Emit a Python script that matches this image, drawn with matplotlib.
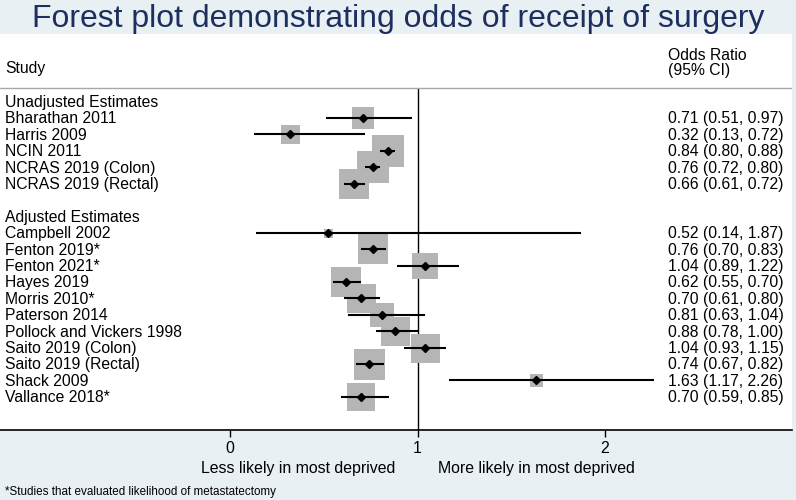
import matplotlib.pyplot as plt

plt.rcParams['font.family'] = ['Liberation Sans', 'DejaVu Sans']

title = "Forest plot demonstrating odds of receipt of surgery"

# unadjusted estimates
unadj_study = ["Bharathan 2011", "Harris 2009", "NCIN 2011",
               "NCRAS 2019 (Colon)", "NCRAS 2019 (Rectal)"]
unadj_or = [0.71, 0.32, 0.84, 0.76, 0.66]
unadj_lo = [0.51, 0.13, 0.80, 0.72, 0.61]
unadj_hi = [0.97, 0.72, 0.88, 0.80, 0.72]
unadj_w = [22, 19, 32, 32, 30]   # box side (study weight)

# adjusted estimates
adj_study = ["Campbell 2002", "Fenton 2019*", "Fenton 2021*", "Hayes 2019",
             "Morris 2010*", "Paterson 2014", "Pollock and Vickers 1998",
             "Saito 2019 (Colon)", "Saito 2019 (Rectal)", "Shack 2009",
             "Vallance 2018*"]
adj_or = [0.52, 0.76, 1.04, 0.62, 0.70, 0.81, 0.88, 1.04, 0.74, 1.63, 0.70]
adj_lo = [0.14, 0.70, 0.89, 0.55, 0.61, 0.63, 0.78, 0.93, 0.67, 1.17, 0.59]
adj_hi = [1.87, 0.83, 1.22, 0.70, 0.80, 1.04, 1.00, 1.15, 0.82, 2.26, 0.85]
adj_w = [9, 30, 26, 30, 29, 24, 29, 29, 31, 13, 27]

xticks = [0, 1, 2]
less_lbl = "Less likely in most deprived"
more_lbl = "More likely in most deprived"
footnote = "*Studies that evaluated likelihood of metastatectomy"

bg = '#e9f0f3'
box_col = '#b5b5b5'
navy = '#1d2f5e'

fig = plt.figure(figsize=(7.96, 5), dpi=100, facecolor=bg)
ax = fig.add_axes([0, 70 / 500, 792 / 796, 396 / 500])
ax.set_facecolor('white')

ax.set_xlim(-1.2267, 2.997)
ax.set_ylim(20.03, -4.116)

# rows: header, studies, blank, header, studies
groups = [("Unadjusted Estimates", unadj_study, unadj_or, unadj_lo, unadj_hi, unadj_w),
          ("Adjusted Estimates", adj_study, adj_or, adj_lo, adj_hi, adj_w)]

lab_x = -1.2
or_x = 2.336
base = 0.33  # baseline offset below row centre
fs = 11.3

row = 0
for head, study, orv, lo, hi, w in groups:
    ax.text(lab_x, row + base, head, fontsize=fs, va='baseline', ha='left')
    row += 1
    for s, o, l, h, ww in zip(study, orv, lo, hi, w):
        ax.plot(o, row, marker='s', ms=ww * 72 / 100, color=box_col,
                mew=0, zorder=2)
        ax.plot([l, h], [row, row], color='black', lw=1.5, zorder=3,
                solid_capstyle='butt')
        ax.plot(o, row, marker='D', ms=3.6, color='black', zorder=4)
        ax.text(lab_x, row + base, s, fontsize=fs, va='baseline', ha='left')
        ax.text(or_x, row + base, f"{o:.2f} ({l:.2f}, {h:.2f})",
                fontsize=fs, va='baseline', ha='left')
        row += 1
    row += 1

# header
ax.text(lab_x, -2.04 + base, "Study", fontsize=fs, va='baseline')
ax.text(or_x, -2.84 + base, "Odds Ratio", fontsize=fs, va='baseline')
ax.text(or_x, -1.92 + base, "(95% CI)", fontsize=fs, va='baseline')
ax.axhline(-0.823, color='#a8a8a8', lw=1)
ax.vlines(1, -0.823, 20.03, color='black', lw=1.0, zorder=1)

for sp in ['top', 'left', 'right']:
    ax.spines[sp].set_visible(False)
ax.spines['bottom'].set_linewidth(1.2)
ax.set_yticks([])
ax.set_xticks(xticks)
ax.tick_params(axis='x', length=5, width=1, labelsize=11.4, pad=3)

ax.text(0.88, -0.096, less_lbl, transform=ax.get_xaxis_transform(),
        fontsize=11.4, ha='right', va='center')
ax.text(1.109, -0.096, more_lbl, transform=ax.get_xaxis_transform(),
        fontsize=11.4, ha='left', va='center')

fig.text(0.5, 1 - 19 / 500, title, fontsize=23, color=navy,
         ha='center', va='center')
fig.text(5 / 796, 8 / 500, footnote, fontsize=8.4, ha='left', va='center')

fig.savefig('out.png', dpi=100, facecolor=bg)
